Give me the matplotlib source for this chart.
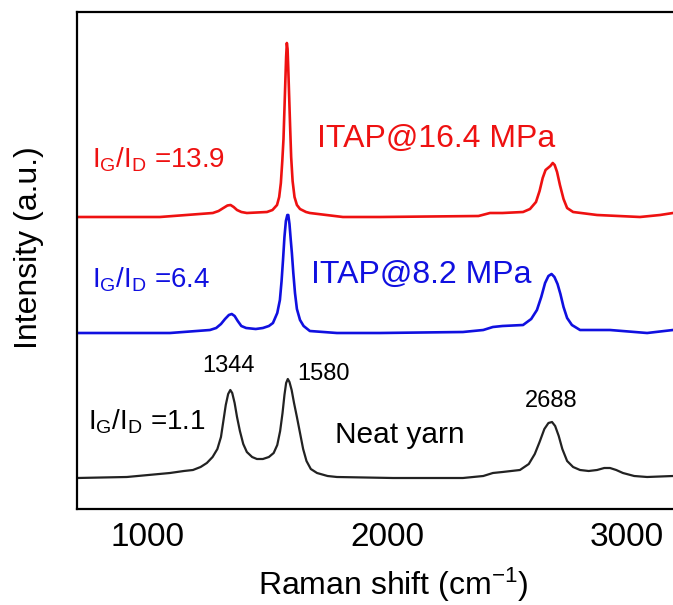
import numpy as np
import matplotlib
matplotlib.use('Agg')
import matplotlib.pyplot as plt

plt.rcParams['font.family'] = ['Liberation Sans', 'DejaVu Sans']
plt.rcParams['mathtext.fontset'] = 'custom'
plt.rcParams['mathtext.rm'] = 'Liberation Sans'
plt.rcParams['mathtext.it'] = 'Liberation Sans:italic'

# Raman spectra (wavenumber in cm-1, stacked intensity in a.u.)
neat_w = [704, 912, 1092, 1150, 1188, 1220, 1246, 1270, 1290, 1305, 1315, 1325, 1335,
          1344, 1352, 1362, 1372, 1384, 1398, 1413, 1435, 1455, 1480, 1505, 1525, 1540,
          1552, 1562, 1570, 1577, 1584, 1591, 1600, 1610, 1622, 1635, 1648, 1662, 1680,
          1706, 1750, 1789, 2023, 2315, 2400, 2440, 2480, 2553, 2590, 2615, 2635, 2655,
          2672, 2687, 2700, 2715, 2730, 2750, 2775, 2804, 2840, 2875, 2905, 2929, 2955,
          2983, 3030, 3084, 3192]
neat_i = [31, 32, 36, 38, 39, 42, 46, 52, 60, 72, 88, 104, 115,
          119, 116, 106, 92, 78, 65, 57, 52, 50, 50, 52, 56, 64,
          78, 96, 114, 126, 130, 127, 119, 106, 92, 76, 60, 48, 40,
          36, 33, 32, 31, 31, 33, 36, 37, 39, 45, 55, 67, 80,
          86, 87, 83, 73, 60, 48, 42, 39, 38, 39, 41, 41, 39,
          36, 33, 32, 33]

p82_w = [704, 1092, 1259, 1285, 1305, 1322, 1338, 1350, 1362, 1375, 1390, 1410, 1450,
         1480, 1505, 1522, 1540, 1551, 1558, 1564, 1570, 1576, 1582, 1586, 1591, 1596,
         1601, 1607, 1614, 1622, 1635, 1650, 1676, 1789, 1969, 2315, 2400, 2440, 2480,
         2566, 2600, 2624, 2642, 2658, 2672, 2685, 2697, 2710, 2722, 2735, 2750, 2770,
         2804, 2929, 3084, 3192]
p82_i = [176, 176, 179, 181, 185, 190, 194, 195, 193, 188, 183, 181, 180,
         181, 183, 186, 196, 209, 228, 249, 272, 288, 294, 294, 285, 270,
         256, 236, 216, 200, 189, 183, 178, 176, 176, 177, 179, 182, 183,
         184, 190, 199, 212, 226, 233, 235, 232, 225, 215, 202, 191, 184,
         179, 179, 176, 179]

p164_w = [704, 1050, 1271, 1295, 1315, 1332, 1345, 1358, 1372, 1390, 1413, 1497, 1520,
          1539, 1548, 1555, 1561, 1566, 1570, 1574, 1577, 1580, 1583, 1586, 1590, 1594,
          1598, 1604, 1612, 1622, 1635, 1660, 1676, 1814, 1969, 2380, 2428, 2480, 2566,
          2595, 2620, 2635, 2648, 2660, 2670, 2680, 2690, 2698, 2708, 2720, 2735, 2750,
          2775, 2875, 3054, 3138, 3192]
p164_i = [292, 292, 296, 298, 301, 303.5, 304, 302, 299, 297, 296, 297, 299,
          304, 312, 326, 348, 370, 400, 430, 452, 466, 460, 440, 410, 380,
          352, 328, 312, 304, 300, 297, 296, 292, 292, 293, 296, 296, 297,
          300, 307, 318, 331, 339, 341, 343, 346, 344, 337, 324, 310, 301,
          297, 294, 292, 294, 296]

peak_labels = ['1344', '1580', '2688']

fig = plt.figure(figsize=(6.73, 6.05), dpi=100)
ax = fig.add_axes([77 / 673, 96 / 605, 1 - 77 / 673, 497 / 605])

ax.plot(neat_w, neat_i, color='#222222', lw=1.6)
ax.plot(p82_w, p82_i, color='#1010e0', lw=1.9)
ax.plot(p164_w, p164_i, color='#ee1111', lw=1.9)

ax.set_xlim(704, 3192)
ax.set_ylim(0, 497)
ax.set_xticks([1000, 2000, 3000])
ax.set_yticks([])
ax.tick_params(axis='x', length=0, pad=9, labelsize=24)
for s in ['left', 'top', 'bottom']:
    ax.spines[s].set_linewidth(1.6)
ax.spines['right'].set_visible(False)

# annotations
ax.text(1706, 362, 'ITAP@16.4 MPa', color='#ee1111', fontsize=23, va='baseline')
ax.text(1680, 226, 'ITAP@8.2 MPa', color='#1010e0', fontsize=23, va='baseline')
ax.text(766, 341, r'$\mathregular{I_G/I_D}$ =13.9', color='#ee1111', fontsize=20, va='baseline')
ax.text(766, 222, r'$\mathregular{I_G/I_D}$ =6.4', color='#1010e0', fontsize=20, va='baseline')
ax.text(749, 79, r'$\mathregular{I_G/I_D}$ =1.1', color='black', fontsize=20, va='baseline')
ax.text(1781, 66, 'Neat yarn', color='black', fontsize=21.5, va='baseline')
ax.text(1338, 137, peak_labels[0], fontsize=17, ha='center', va='baseline')
ax.text(1731, 129, peak_labels[1], fontsize=17, ha='center', va='baseline')
ax.text(2683, 102, peak_labels[2], fontsize=17, ha='center', va='baseline')

fig.text(393 / 673, 10 / 605, r'Raman shift (cm$^{\mathregular{-1}}$)', fontsize=23,
         ha='center', va='baseline')
fig.text(29 / 673, 1 - 248 / 605, 'Intensity (a.u.)', fontsize=23, rotation=90,
         ha='center', va='center')

fig.savefig('out.png', dpi=100)
